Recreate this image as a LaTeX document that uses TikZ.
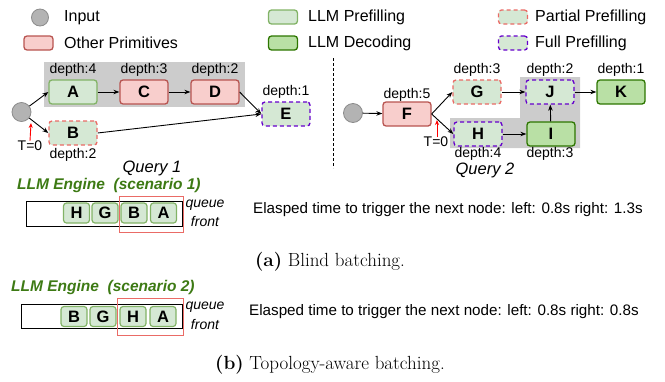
\documentclass[tikz,border=0pt]{standalone}
\usepackage{fontspec}
\setsansfont{Liberation Sans}
\usetikzlibrary{arrows.meta}
\definecolor{prifill}{HTML}{D5E8D4}
\definecolor{pridraw}{HTML}{82B366}
\definecolor{othfill}{HTML}{F8CECC}
\definecolor{othdraw}{HTML}{B85450}
\definecolor{decfill}{HTML}{B9E0A5}
\definecolor{decdraw}{HTML}{2D7600}
\definecolor{pardraw}{HTML}{EA6B66}
\definecolor{fulldraw}{HTML}{6600CC}
\definecolor{bggray}{HTML}{CCCCCC}
\definecolor{enginec}{HTML}{3D7A14}
\definecolor{inpfill}{HTML}{B3B3B3}
\definecolor{inpdraw}{HTML}{8C8C8C}
\tikzset{
  box/.style={rounded corners=3pt, minimum width=48pt, minimum height=24pt, line width=1.3pt,
    font=\sffamily\bfseries\fontsize{16.5}{18}\selectfont, inner sep=0pt},
  prefill/.style={box, fill=prifill, draw=pridraw},
  other/.style={box, fill=othfill, draw=othdraw},
  decode/.style={box, fill=decfill, draw=decdraw},
  partial/.style={box, fill=prifill, draw=pardraw, dash pattern=on 4pt off 3pt},
  full/.style={box, fill=prifill, draw=fulldraw, dash pattern=on 4pt off 3pt},
  legbox/.style={minimum width=29pt, minimum height=14pt},
  inp/.style={circle, fill=inpfill, draw=inpdraw, minimum size=19pt, line width=0.8pt, inner sep=0pt},
  lbl/.style={font=\sffamily\fontsize{14}{16}\selectfont, inner sep=0pt},
  legtext/.style={font=\sffamily\fontsize{16}{18}\selectfont, inner sep=0pt, anchor=west},
  arr/.style={-{Stealth[length=6pt,width=4.5pt]}, line width=0.9pt},
  redarr/.style={-{Stealth[length=5pt,width=4pt]}, line width=0.9pt, draw=red},
  qitem/.style={rounded corners=3pt, fill=prifill, draw=pridraw, line width=1.2pt,
    minimum width=26pt, minimum height=20pt, inner sep=0pt,
    font=\sffamily\bfseries\fontsize{16.5}{18}\selectfont},
  queuebox/.style={draw=black, line width=1pt, inner sep=0pt},
  hilite/.style={draw=pardraw, line width=1pt, inner sep=0pt},
  qtext/.style={font=\sffamily\itshape\fontsize{14}{16}\selectfont, inner sep=0pt},
  engtext/.style={font=\sffamily\bfseries\itshape\fontsize{15.5}{18}\selectfont, text=enginec, inner sep=0pt, anchor=west},
  eltext/.style={font=\sffamily\fontsize{15.2}{18}\selectfont, inner sep=0pt, anchor=west},
  qlabel/.style={font=\sffamily\itshape\fontsize{16.5}{18}\selectfont, inner sep=0pt},
  capt/.style={font=\fontsize{19}{21}\selectfont, inner sep=0pt}
}
\begin{document}
\begin{tikzpicture}[x=1pt,y=-1pt]
\useasboundingbox (0,0) rectangle (665,381);
% legend
\node[inp, minimum size=17pt] (lin) at (40,17.5) {};
\node[legtext] (linT) at (64,17.5) {Input};
\node[other, legbox] (loth) at (38.5,43) {};
\node[legtext] (lothT) at (64,43) {Other Primitives};
\node[prefill, legbox] (lpre) at (283,17) {};
\node[legtext] (lpreT) at (308,17) {LLM Prefilling};
\node[decode, legbox] (ldec) at (283,43) {};
\node[legtext] (ldecT) at (308,43) {LLM Decoding};
\node[partial, legbox] (lpar) at (513,17) {};
\node[legtext] (lparT) at (535,17) {Partial Prefilling};
\node[full, legbox] (lful) at (513,43) {};
\node[legtext] (lfulT) at (535,43) {Full Prefilling};

% Query 1
\fill[bggray] (44,62) rectangle (245,107);
\node[inp] (in1) at (21.5,112) {};
\node[prefill] (A) at (73,92) {A};
\node[other] (C) at (144,92) {C};
\node[other] (D) at (215,92) {D};
\node[full] (E) at (286,114) {E};
\node[partial] (B) at (73,133) {B};
\node[lbl] (dA) at (73,70) {depth:4};
\node[lbl] (dC) at (144,70) {depth:3};
\node[lbl] (dD) at (215,70) {depth:2};
\node[lbl] (dE) at (286,92) {depth:1};
\node[lbl] (dB) at (73,155) {depth:2};
\draw[arr] (in1) -- (A.west);
\draw[arr] (in1) -- (B.west);
\draw[arr] (A) -- (C);
\draw[arr] (C) -- (D);
\draw[arr] (D.east) -- (E.west);
\draw[arr] (B.east) -- (E.west);
\node[lbl] (t1) at (30,146) {T=0};
\coordinate (t1tip) at (31,123);
\draw[redarr] (t1.north) -- (t1tip);
\node[qlabel] (q1lab) at (152,168.5) {Query 1};

% separator
\coordinate (sepT) at (333,58);
\coordinate (sepB) at (333,168);
\draw[line width=1pt, dash pattern=on 3pt off 2pt] (sepT) -- (sepB);

% Query 2
\fill[bggray] (450,118) -- (520,118) -- (520,77) -- (580,77) -- (580,148) -- (450,148) -- cycle;
\node[inp] (in2) at (353,113) {};
\node[other] (F) at (407,114) {F};
\node[partial] (G) at (477,92) {G};
\node[full] (H) at (478,134) {H};
\node[full] (J) at (550,92) {J};
\node[decode] (K) at (621,92) {K};
\node[decode] (I) at (551,134) {I};
\node[lbl] (dF) at (407,95) {depth:5};
\node[lbl] (dG) at (477,70) {depth:3};
\node[lbl] (dJ) at (550,70) {depth:2};
\node[lbl] (dK) at (621,70) {depth:1};
\node[lbl] (dH) at (478,154) {depth:4};
\node[lbl] (dI) at (550,154) {depth:3};
\draw[arr] (in2) -- (F);
\draw[arr] (F.east) -- (G.west);
\draw[arr] (F.east) -- (H.west);
\draw[arr] (G) -- (J);
\draw[arr] (J) -- (K);
\draw[arr] (H) -- (I);
\draw[arr] (I) -- (J);
\node[lbl] (t2) at (436,142) {T=0};
\coordinate (t2tip) at (437,120);
\draw[redarr] (t2.north -| t2tip) -- (t2tip);
\node[qlabel] (q2lab) at (485,170) {Query 2};

% scenario 1
\node[engtext] (eng1) at (17,185) {LLM Engine\ \ (scenario 1)};
\node[queuebox, minimum width=156pt, minimum height=25pt] (qb1) at (104,213.5) {};
\node[qitem] (q1H) at (76.5,213) {H};
\node[qitem] (q1G) at (105,213) {G};
\node[qitem] (q1B) at (134,213) {B};
\node[qitem] (q1A) at (163.5,213) {A};
\node[hilite, minimum width=64pt, minimum height=36pt] (hl1) at (151,214) {};
\node[qtext] (qq1) at (205,205) {queue};
\node[qtext] (qf1) at (205,221) {front};
\node[eltext] (el1) at (253,210) {Elasped time to trigger the next node: left: 0.8s right: 1.3s};
\node[capt] (capa) at (330,262) {\textbf{(a)} Blind batching.};

% scenario 2
\node[engtext] (eng2) at (11,287) {LLM Engine\ \ (scenario 2)};
\node[queuebox, minimum width=161pt, minimum height=24pt] (qb2) at (101.5,316) {};
\node[qitem] (q2B) at (74,316.5) {B};
\node[qitem] (q2G) at (103,316.5) {G};
\node[qitem] (q2H) at (133,316.5) {H};
\node[qitem] (q2A) at (163,316.5) {A};
\node[hilite, minimum width=66pt, minimum height=37pt] (hl2) at (150,316.5) {};
\node[qtext] (qq2) at (205,307) {queue};
\node[qtext] (qf2) at (205,324) {front};
\node[eltext] (el2) at (249,312) {Elasped time to trigger the next node: left: 0.8s right: 0.8s};
\node[capt] (capb) at (330,365) {\textbf{(b)} Topology-aware batching.};
\end{tikzpicture}
\end{document}
